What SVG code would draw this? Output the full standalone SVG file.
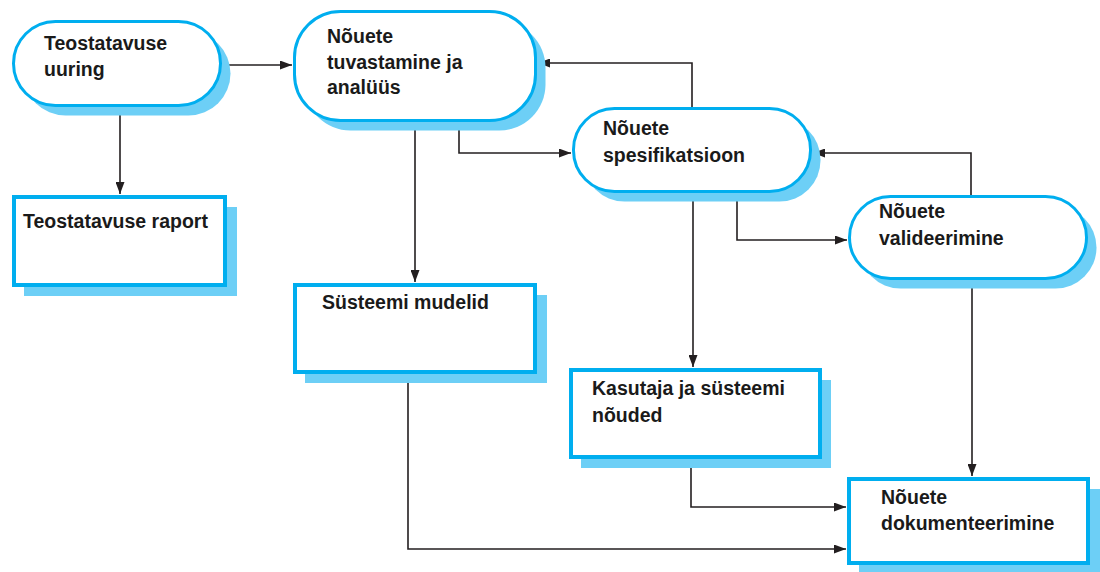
<svg xmlns="http://www.w3.org/2000/svg" width="1100" height="572" viewBox="0 0 1100 572">
<style>
.sh{fill:#6dcff6;stroke:none}
.st{fill:#fff;stroke:#00aeef;stroke-width:3}
.bx{fill:#fff;stroke:#00aeef;stroke-width:4}
.t{font-family:"Liberation Sans",Arial,sans-serif;font-weight:bold;font-size:19.5px;fill:#1a1a1a}
.c{fill:none;stroke:#231f20;stroke-width:1.6}
</style>
<defs>
<marker id="ah" markerUnits="userSpaceOnUse" markerWidth="13" markerHeight="9" refX="12" refY="4.5" orient="auto">
<path d="M0,0 L12,4.5 L0,9 z" fill="#231f20"/>
</marker>
</defs>
<rect width="1100" height="572" fill="#fff"/>
<g id="connectors">
<path class="c" d="M226,65 H292" marker-end="url(#ah)"/>
<path class="c" d="M120,107 V194" marker-end="url(#ah)"/>
<path class="c" d="M415,122 V282" marker-end="url(#ah)"/>
<path class="c" d="M459,122 V153 H571" marker-end="url(#ah)"/>
<path class="c" d="M692,108 V63 H538" marker-end="url(#ah)"/>
<path class="c" d="M693,193 V367" marker-end="url(#ah)"/>
<path class="c" d="M737,193 V240 H847" marker-end="url(#ah)"/>
<path class="c" d="M971,195 V153 H813" marker-end="url(#ah)"/>
<path class="c" d="M972,280 V476" marker-end="url(#ah)"/>
<path class="c" d="M691,459 V507 H846" marker-end="url(#ah)"/>
<path class="c" d="M408,374 V549 H846" marker-end="url(#ah)"/>
</g>
<g id="n-uuring">
<rect class="sh" x="23.5" y="31.5" width="207" height="84" rx="42"/>
<rect class="st" x="13.5" y="21.5" width="207" height="84" rx="42"/>
<text class="t" x="44" y="50">Teostatavuse</text>
<text class="t" x="44" y="76">uuring</text>
</g>
<g id="n-tuvastamine">
<rect class="sh" x="304.5" y="21.5" width="241" height="109" rx="46"/>
<rect class="st" x="294.5" y="11.5" width="241" height="109" rx="46"/>
<text class="t" x="327" y="43">Nõuete</text>
<text class="t" x="327" y="69">tuvastamine ja</text>
<text class="t" x="327" y="94">analüüs</text>
</g>
<g id="n-spesifikatsioon">
<rect class="sh" x="583.5" y="118.5" width="237" height="83" rx="41"/>
<rect class="st" x="573.5" y="108.5" width="237" height="83" rx="41"/>
<text class="t" x="603" y="135">Nõuete</text>
<text class="t" x="603" y="162">spesifikatsioon</text>
</g>
<g id="n-valideerimine">
<rect class="sh" x="859.5" y="206.5" width="237" height="82" rx="41"/>
<rect class="st" x="849.5" y="196.5" width="237" height="82" rx="41"/>
<text class="t" x="879" y="218">Nõuete</text>
<text class="t" x="879" y="245">valideerimine</text>
</g>
<g id="n-raport">
<rect class="sh" x="24" y="207" width="213" height="89"/>
<rect class="bx" x="14" y="197" width="211" height="88"/>
<text class="t" x="23" y="228">Teostatavuse raport</text>
</g>
<g id="n-mudelid">
<rect class="sh" x="305" y="295" width="242" height="88"/>
<rect class="bx" x="295" y="285" width="240" height="87"/>
<text class="t" x="322" y="309">Süsteemi mudelid</text>
</g>
<g id="n-noudeid">
<rect class="sh" x="581" y="380" width="250" height="88"/>
<rect class="bx" x="571" y="370" width="249" height="87"/>
<text class="t" x="592" y="395">Kasutaja ja süsteemi</text>
<text class="t" x="592" y="422">nõuded</text>
</g>
<g id="n-dokumenteerimine">
<rect class="sh" x="859" y="489" width="243" height="86"/>
<rect class="bx" x="849" y="479" width="239" height="84"/>
<text class="t" x="881" y="504">Nõuete</text>
<text class="t" x="881" y="530">dokumenteerimine</text>
</g>
</svg>
